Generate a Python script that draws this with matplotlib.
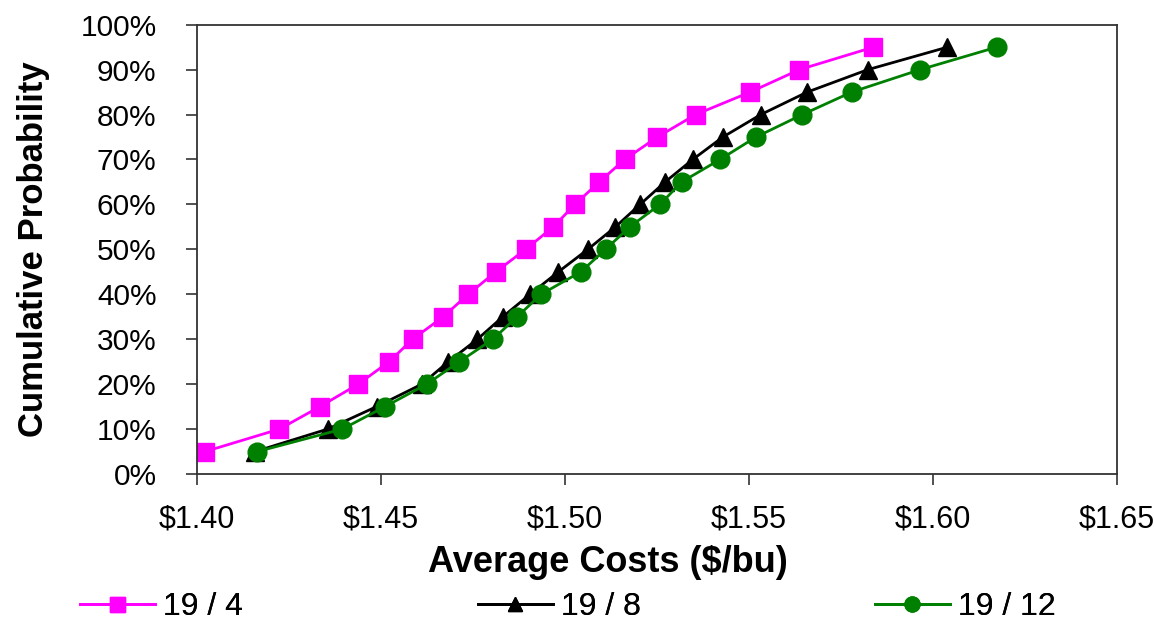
import matplotlib.pyplot as plt
from matplotlib.ticker import FuncFormatter

# cumulative probability levels (%)
prob = [5, 10, 15, 20, 25, 30, 35, 40, 45, 50, 55, 60, 65, 70, 75, 80, 85, 90, 95]

# average costs ($/bu) for each scenario
cost_19_4 = [1.4022, 1.4224, 1.4334, 1.4438, 1.4522, 1.4586, 1.4669, 1.4737, 1.4812, 1.4893,
             1.4968, 1.5027, 1.5093, 1.5162, 1.5251, 1.5355, 1.5503, 1.5637, 1.5838]
cost_19_8 = [1.4158, 1.4355, 1.4488, 1.4611, 1.4683, 1.4762, 1.4831, 1.4905, 1.4982, 1.5062,
             1.5137, 1.5204, 1.5272, 1.5347, 1.5429, 1.5532, 1.5658, 1.5823, 1.6039]
cost_19_12 = [1.4164, 1.4395, 1.4511, 1.4624, 1.4713, 1.4804, 1.4870, 1.4935, 1.5043, 1.5110,
              1.5176, 1.5258, 1.5317, 1.5421, 1.5519, 1.5645, 1.5779, 1.5965, 1.6173]

labels = ['19 / 4', '19 / 8', '19 / 12']
xticks = [1.40, 1.45, 1.50, 1.55, 1.60, 1.65]
yticks = [0, 10, 20, 30, 40, 50, 60, 70, 80, 90, 100]

font = ['Liberation Sans', 'DejaVu Sans']

fig = plt.figure(figsize=(11.54, 6.22), dpi=100)
ax = fig.add_axes([0.1707, 0.2379, 0.7973, 0.7224])

l1, = ax.plot(cost_19_4, prob, color='#FF00FF', lw=2, marker='s', ms=13.5, label=labels[0])
l2, = ax.plot(cost_19_8, prob, color='black', lw=2, marker='^', ms=13, label=labels[1])
l3, = ax.plot(cost_19_12, prob, color='#008000', lw=2, marker='o', ms=13.5, label=labels[2])

ax.set_xlim(1.40, 1.65)
ax.set_ylim(0, 100)
ax.set_xticks(xticks)
ax.set_yticks(yticks)
ax.xaxis.set_major_formatter(FuncFormatter(lambda v, p: '${:.2f}'.format(v)))
ax.yaxis.set_major_formatter(FuncFormatter(lambda v, p: '{:.0f}%'.format(v)))

ax.tick_params(axis='both', direction='out', length=8, width=1.2, color='#333333')
ax.tick_params(axis='y', pad=21)
ax.tick_params(axis='x', pad=14)
for t in ax.get_yticklabels():
    t.set_family(font)
    t.set_fontsize(21.5)
for t in ax.get_xticklabels():
    t.set_family(font)
    t.set_fontsize(22)

for s in ax.spines.values():
    s.set_color('#333333')
    s.set_linewidth(1.3)

ax.set_ylabel('Cumulative Probability', fontsize=25, fontweight='bold', family=font, labelpad=22)
ax.set_xlabel('Average Costs ($/bu)', fontsize=26, fontweight='bold', family=font)
ax.xaxis.set_label_coords(0.447, -0.158)

# one legend entry per slot along the bottom
for h, x0 in zip([l1, l2, l3], [0.069, 0.414, 0.758]):
    fig.add_artist(fig.legend(handles=[h], loc='center left', bbox_to_anchor=(x0, 0.024),
                              frameon=False, prop={'family': font, 'size': 23},
                              handlelength=2.35, handletextpad=0.25, borderpad=0,
                              borderaxespad=0, markerscale=0.8))

fig.savefig('out.png', dpi=100)
